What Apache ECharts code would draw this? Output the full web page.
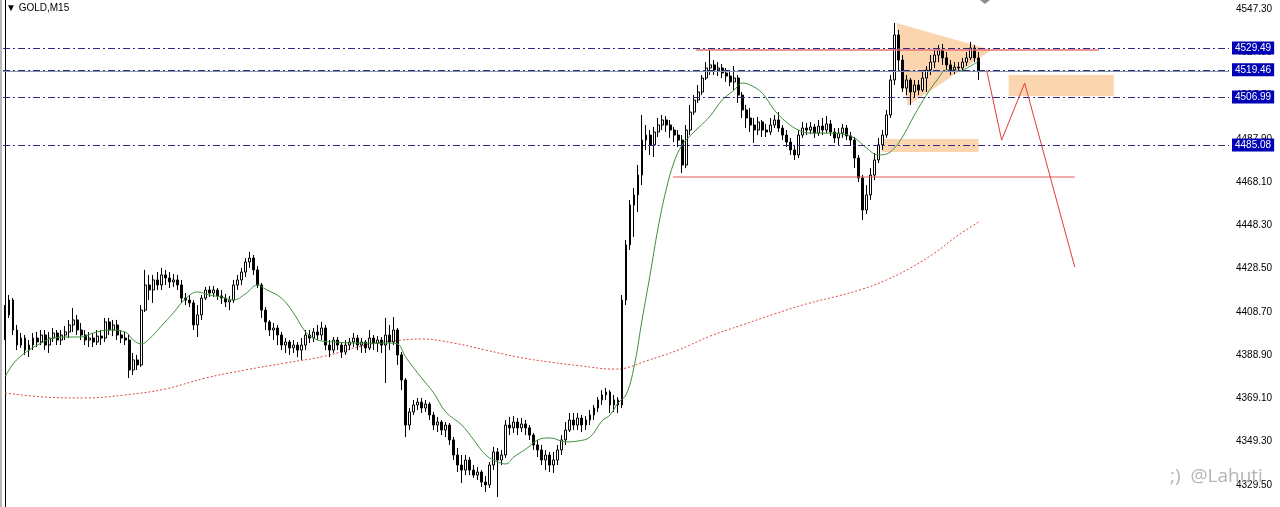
<!DOCTYPE html>
<html><head><meta charset="utf-8">
<script src="https://cdn.jsdelivr.net/npm/echarts@6/dist/echarts.min.js"></script>
<style>html,body{margin:0;padding:0;background:#fff;overflow:hidden}#c{width:1280px;height:507px}</style>
</head><body><div id="c"></div>
<script>
// GOLD M15 candles: [open, close, low, high]
const candles = [
[4398.1,4407.3,4395.8,4411.8],[4407.3,4414.1,4405.9,4416.4],[4414.1,4400.4,4398.1,4415.0],[4400.4,4393.5,4391.2,4402.7],
[4393.5,4396.7,4392.2,4399.0],[4396.7,4391.2,4389.0,4398.1],[4391.2,4393.5,4388.0,4395.8],[4393.5,4396.7,4391.2,4399.0],
[4396.7,4394.9,4392.6,4399.5],[4394.9,4398.1,4393.5,4400.4],[4398.1,4393.5,4391.2,4400.4],[4393.5,4396.7,4389.9,4399.5],
[4396.7,4399.0,4394.9,4401.3],[4399.0,4395.8,4393.5,4400.4],[4395.8,4398.1,4393.5,4400.4],[4398.1,4399.5,4395.8,4402.2],
[4399.5,4402.7,4396.7,4405.0],[4402.7,4405.0,4399.5,4410.5],[4405.0,4400.4,4398.1,4407.3],[4400.4,4398.1,4395.8,4403.6],
[4398.1,4395.8,4393.5,4400.4],[4395.8,4396.7,4392.6,4399.5],[4396.7,4394.9,4392.6,4399.0],[4394.9,4397.6,4393.5,4400.4],
[4397.6,4396.7,4393.5,4400.4],[4396.7,4404.1,4394.9,4405.9],[4404.1,4400.4,4398.1,4405.9],[4400.4,4402.7,4397.6,4405.0],
[4402.7,4398.1,4395.8,4405.0],[4398.1,4396.7,4394.4,4400.4],[4396.7,4395.8,4393.5,4399.5],[4395.8,4382.1,4378.4,4398.1],
[4382.1,4386.7,4379.8,4389.9],[4386.7,4384.4,4382.1,4389.0],[4384.4,4409.5,4383.5,4411.8],[4409.5,4421.0,4408.6,4427.9],
[4421.0,4418.7,4414.1,4425.6],[4418.7,4423.3,4412.8,4425.6],[4423.3,4421.0,4418.7,4426.9],[4421.0,4425.6,4418.7,4428.8],
[4425.6,4424.2,4421.0,4427.9],[4424.2,4422.4,4419.6,4426.9],[4422.4,4423.3,4420.1,4426.0],[4423.3,4421.0,4418.7,4425.6],
[4421.0,4415.0,4412.8,4423.3],[4415.0,4414.1,4411.8,4417.3],[4414.1,4412.8,4410.9,4416.4],[4412.8,4402.7,4400.4,4414.1],
[4402.7,4407.3,4397.2,4411.8],[4407.3,4415.0,4405.0,4416.4],[4415.0,4418.7,4414.1,4420.1],[4418.7,4417.3,4415.5,4420.5],
[4417.3,4418.7,4415.5,4420.5],[4418.7,4416.0,4414.1,4419.6],[4416.0,4415.0,4412.3,4418.7],[4415.0,4413.2,4410.9,4416.9],
[4413.2,4414.1,4409.5,4416.0],[4414.1,4421.0,4412.8,4423.3],[4421.0,4423.3,4418.7,4425.6],[4423.3,4426.9,4421.0,4428.8],
[4426.9,4431.5,4424.6,4433.3],[4431.5,4433.3,4428.8,4436.1],[4433.3,4427.9,4425.6,4434.7],[4427.9,4421.0,4419.6,4429.7],
[4421.0,4409.5,4405.9,4421.9],[4409.5,4404.1,4400.4,4410.9],[4404.1,4400.4,4397.6,4405.0],[4400.4,4401.3,4395.8,4403.6],
[4401.3,4398.1,4393.5,4402.7],[4398.1,4393.5,4391.2,4399.5],[4393.5,4394.9,4389.9,4396.7],[4394.9,4392.2,4389.0,4395.8],
[4392.2,4393.5,4389.9,4395.8],[4393.5,4391.2,4388.0,4394.9],[4391.2,4393.5,4386.7,4396.7],[4393.5,4398.1,4391.2,4400.4],
[4398.1,4396.7,4394.4,4400.4],[4396.7,4399.5,4394.9,4401.3],[4399.5,4398.1,4395.8,4402.7],[4398.1,4401.3,4395.8,4404.1],
[4401.3,4393.5,4391.2,4402.7],[4393.5,4391.2,4388.0,4395.8],[4391.2,4395.8,4389.9,4397.2],[4395.8,4393.5,4391.2,4397.2],
[4393.5,4390.3,4387.6,4394.9],[4390.3,4393.5,4389.0,4395.8],[4393.5,4394.9,4391.2,4396.7],[4394.9,4396.7,4392.6,4399.0],
[4396.7,4393.5,4391.2,4398.1],[4393.5,4394.9,4389.9,4396.7],[4394.9,4392.2,4389.9,4395.8],[4392.2,4396.7,4391.2,4400.4],
[4396.7,4394.4,4391.2,4398.1],[4394.4,4395.8,4390.3,4397.6],[4395.8,4393.5,4389.9,4397.2],[4393.5,4398.1,4376.1,4405.9],
[4398.1,4394.9,4391.2,4402.7],[4394.9,4400.4,4393.5,4406.3],[4400.4,4389.0,4384.4,4401.3],[4389.0,4377.5,4372.9,4390.3],
[4377.5,4356.9,4351.4,4378.4],[4356.9,4362.9,4354.6,4364.7],[4362.9,4366.1,4361.5,4368.4],[4366.1,4367.4,4363.8,4369.3],
[4367.4,4364.7,4362.4,4369.3],[4364.7,4366.5,4362.9,4368.4],[4366.5,4361.5,4359.2,4367.4],[4361.5,4356.9,4354.6,4362.9],
[4356.9,4358.3,4353.7,4360.6],[4358.3,4354.6,4352.3,4359.2],[4354.6,4356.9,4351.4,4358.3],[4356.9,4350.1,4347.8,4357.8],
[4350.1,4343.2,4340.9,4351.4],[4343.2,4338.6,4335.4,4346.4],[4338.6,4336.3,4330.4,4343.2],[4336.3,4340.9,4334.0,4343.2],
[4340.9,4336.3,4334.0,4342.3],[4336.3,4334.0,4332.7,4338.6],[4334.0,4335.4,4331.8,4337.7],[4335.4,4330.8,4328.6,4336.3],
[4330.8,4329.5,4326.3,4333.6],[4329.5,4338.6,4328.1,4340.0],[4338.6,4344.6,4336.3,4346.9],[4344.6,4340.9,4324.0,4346.4],
[4340.9,4343.2,4338.6,4345.5],[4343.2,4356.9,4341.8,4359.2],[4356.9,4355.6,4352.3,4360.6],[4355.6,4358.3,4353.3,4361.0],
[4358.3,4355.6,4352.3,4360.1],[4355.6,4357.4,4353.7,4360.1],[4357.4,4355.6,4352.3,4359.2],[4355.6,4352.3,4350.1,4356.9],
[4352.3,4347.8,4345.5,4353.3],[4347.8,4345.5,4342.3,4350.1],[4345.5,4340.9,4338.6,4347.8],[4340.9,4343.2,4336.3,4345.5],
[4343.2,4338.6,4335.4,4344.6],[4338.6,4340.9,4335.0,4344.6],[4340.9,4345.5,4338.6,4347.8],[4345.5,4350.1,4343.2,4352.3],
[4350.1,4354.6,4347.8,4358.3],[4354.6,4359.2,4353.7,4362.4],[4359.2,4356.9,4354.6,4362.4],[4356.9,4360.1,4354.6,4362.4],
[4360.1,4356.9,4353.7,4361.5],[4356.9,4359.2,4354.6,4361.0],[4359.2,4361.5,4356.9,4363.8],[4361.5,4364.7,4359.2,4366.1],
[4364.7,4368.4,4362.9,4369.7],[4368.4,4370.7,4366.1,4372.9],[4370.7,4372.0,4368.4,4373.9],[4372.0,4366.1,4362.4,4372.9],
[4366.1,4368.4,4362.9,4370.7],[4368.4,4366.1,4362.4,4369.7],[4366.1,4414.1,4364.7,4416.4],[4414.1,4439.3,4411.8,4441.6],
[4439.3,4457.6,4437.0,4459.9],[4457.6,4462.2,4443.0,4465.4],[4462.2,4471.3,4454.4,4475.9],[4471.3,4487.3,4466.7,4498.8],
[4487.3,4489.6,4482.8,4494.2],[4489.6,4485.1,4480.5,4491.9],[4485.1,4491.0,4479.6,4493.3],[4491.0,4494.2,4488.7,4497.4],
[4494.2,4496.5,4491.9,4498.8],[4496.5,4494.2,4491.0,4498.3],[4494.2,4491.9,4488.3,4496.5],[4491.9,4489.6,4486.4,4493.3],
[4489.6,4487.3,4484.1,4491.9],[4487.3,4475.9,4472.2,4489.6],[4475.9,4491.9,4474.5,4494.2],[4491.9,4500.1,4489.6,4503.4],
[4500.1,4505.6,4498.8,4507.9],[4505.6,4509.3,4504.3,4512.5],[4509.3,4515.7,4507.9,4517.1],[4515.7,4520.3,4514.8,4523.0],
[4520.3,4521.7,4517.1,4528.5],[4521.7,4519.4,4517.1,4523.9],[4519.4,4520.3,4516.6,4523.0],[4520.3,4518.0,4515.7,4522.1],
[4518.0,4516.6,4513.9,4520.3],[4516.6,4513.9,4512.0,4519.4],[4513.9,4515.7,4510.2,4521.2],[4515.7,4507.9,4504.3,4517.1],
[4507.9,4501.1,4497.4,4509.3],[4501.1,4497.4,4492.8,4503.4],[4497.4,4494.2,4491.0,4502.0],[4494.2,4491.9,4486.0,4497.4],
[4491.9,4495.6,4489.6,4497.9],[4495.6,4491.9,4488.7,4496.5],[4491.9,4491.0,4488.7,4494.7],[4491.0,4494.2,4489.6,4497.4],
[4494.2,4496.5,4492.8,4498.8],[4496.5,4492.8,4491.0,4500.1],[4492.8,4489.6,4487.3,4494.2],[4489.6,4486.4,4484.1,4491.9],
[4486.4,4482.8,4480.5,4488.3],[4482.8,4480.5,4478.2,4485.1],[4480.5,4489.6,4479.1,4491.9],[4489.6,4492.8,4488.3,4495.6],
[4492.8,4491.9,4489.6,4495.1],[4491.9,4493.3,4490.1,4495.6],[4493.3,4490.5,4488.3,4494.7],[4490.5,4493.7,4489.2,4496.5],
[4493.7,4491.9,4489.6,4497.4],[4491.9,4494.7,4490.5,4498.3],[4494.7,4491.0,4489.2,4496.5],[4491.0,4488.3,4486.0,4492.8],
[4488.3,4490.5,4485.1,4492.8],[4490.5,4492.8,4488.3,4494.7],[4492.8,4489.2,4487.3,4494.2],[4489.2,4487.3,4484.6,4491.0],
[4487.3,4479.1,4474.5,4488.7],[4479.1,4470.0,4468.1,4480.5],[4470.0,4455.3,4450.7,4471.3],[4455.3,4462.2,4453.5,4466.7],
[4462.2,4471.3,4459.9,4474.5],[4471.3,4478.2,4469.0,4481.4],[4478.2,4485.1,4476.8,4488.3],[4485.1,4489.6,4482.8,4491.9],
[4489.6,4498.8,4488.3,4501.1],[4498.8,4514.8,4497.4,4517.1],[4514.8,4535.4,4512.5,4540.9],[4535.4,4523.9,4519.4,4537.7],
[4523.9,4511.1,4509.3,4526.2],[4511.1,4514.8,4507.9,4517.1],[4514.8,4509.3,4503.4,4515.7],[4509.3,4512.5,4506.6,4514.8],
[4512.5,4510.2,4507.9,4514.8],[4510.2,4515.7,4509.3,4518.5],[4515.7,4519.4,4509.3,4521.2],[4519.4,4523.0,4517.1,4526.2],
[4523.0,4526.2,4520.3,4528.5],[4526.2,4528.5,4523.0,4530.8],[4528.5,4524.9,4521.7,4531.3],[4524.9,4521.7,4519.4,4527.6],
[4521.7,4519.4,4517.1,4523.9],[4519.4,4520.7,4517.5,4523.0],[4520.7,4520.3,4518.5,4523.0],[4520.3,4523.0,4518.5,4524.9],
[4523.0,4524.9,4521.2,4527.6],[4524.9,4529.4,4523.9,4532.2],[4529.4,4524.9,4523.0,4530.8],[4524.9,4518.5,4514.8,4527.6]
];
// moving averages sampled at bar index: [barIndex, value]
const greenMA = [[0,4379.0],[2,4384.8],[4,4388.5],[6,4391.2],[9,4394.4],[12,4396.7],[16,4397.2],[19,4397.2],[22,4399.0],[26,4400.4],
[30,4399.5],[32,4395.8],[34,4394.0],[36,4396.3],[39,4402.2],[42,4408.2],[45,4414.6],[48,4417.8],[51,4416.4],[54,4415.5],
[57,4414.1],[60,4416.9],[63,4421.0],[65,4419.1],[69,4415.0],[72,4408.2],[75,4399.5],[77,4396.7],[79,4395.4],[82,4394.9],
[88,4394.4],[96,4394.4],[98,4394.0],[100,4388.0],[104,4378.4],[107,4371.6],[110,4362.9],[114,4356.9],[117,4350.1],[120,4343.2],
[123,4340.0],[125,4339.1],[127,4342.3],[130,4345.9],[133,4350.1],[136,4351.0],[140,4349.2],[143,4349.6],[146,4351.4],[149,4358.8],
[151,4361.5],[153,4367.0],[155,4370.7],[157,4383.5],[159,4405.0],[161,4425.6],[163,4447.1],[165,4464.5],[167,4477.3],[169,4485.0],
[171,4489.2],[173,4492.8],[176,4498.3],[179,4505.6],[182,4510.2],[184,4513.4],[186,4512.5],[189,4508.8],[192,4501.1],[195,4495.6],
[198,4491.9],[201,4490.5],[205,4490.5],[209,4490.1],[212,4488.3],[215,4483.7],[218,4480.5],[220,4480.9],[222,4483.7],[224,4488.7],
[227,4498.8],[230,4507.9],[233,4515.7],[235,4519.4],[238,4518.9],[241,4521.2],[243,4523.5]];
const redMA = [[0,4371.6],[10,4369.7],[20,4369.3],[30,4370.7],[40,4373.4],[50,4378.4],[60,4382.1],[70,4385.3],[80,4388.5],[90,4393.5],
[97,4395.4],[104,4396.3],[112,4394.4],[120,4391.2],[128,4388.0],[136,4385.7],[144,4383.9],[152,4382.5],[155,4383.0],[160,4386.2],
[168,4391.2],[176,4397.6],[184,4402.7],[192,4407.7],[200,4412.3],[208,4416.0],[214,4419.1],[220,4423.3],[226,4428.8],[232,4435.6],
[238,4443.9],[243,4449.8]];
// horizontal price levels (blue labels) and bid line
const levels = [4529.49, 4519.46, 4506.99, 4485.08];
const bidPrice = 4518.6;
// price axis: visible range and tick labels
const yRange = [4319.4, 4551.4];
const yTicks = [4547.30,4527.50,4507.70,4487.90,4468.10,4448.30,4428.50,4408.70,4388.90,4369.10,4349.30,4329.50];
// drawn annotations, in [barIndex, price]
const triangleZone = [[222.5,4540.9],[246.25,4528.5],[225.25,4502.9]];
const supplyZone = [[250.5,4517.1],[276.75,4507.5]];
const demandZone = [[218.75,4487.8],[243,4481.8]];
const forecastPath = [[245,4519.4],[248.75,4487.3],[254.5,4513.4],[267,4429.2]];
const resistanceLine = [[172.5,4528.5],[273,4528.5]];
const supportLine = [[166.75,4470.4],[267,4470.4]];
const N_SLOTS = 306;

const slots = Array.from({length: N_SLOTS}, (_, i) => String(i));
const rect = r => [[r[0][0],r[0][1]],[r[1][0],r[0][1]],[r[1][0],r[1][1]],[r[0][0],r[1][1]]];
const zones = [triangleZone, rect(supplyZone), rect(demandZone)];
const FONT = 'Liberation Sans';

const chart = echarts.init(document.getElementById('c'));
chart.setOption({
  animation: false,
  backgroundColor: '#ffffff',
  grid: {left: 3, right: 51, top: 0, bottom: 0, containLabel: false},
  xAxis: [
    {type: 'category', data: slots, boundaryGap: true, show: false},
    {type: 'value', min: -0.5, max: N_SLOTS - 0.5, show: false}
  ],
  yAxis: [{
    type: 'value', position: 'right', min: yRange[0], max: yRange[1],
    axisLine: {show: true, lineStyle: {color: '#000', width: 1}},
    axisTick: {show: false},
    axisLabel: {margin: 7, color: '#000', fontFamily: FONT, fontSize: 10, customValues: yTicks,
      formatter: v => Number(v).toFixed(2)},
    splitLine: {show: false}
  }],
  series: [
    {
      type: 'custom', xAxisIndex: 1, yAxisIndex: 0, z: 1, silent: true,
      data: zones.map((z, i) => [i, z[0][1]]),
      renderItem: (params, api) => ({
        type: 'polygon',
        shape: {points: zones[params.dataIndex].map(p => api.coord(p))},
        style: {fill: '#fbd5b0'}
      })
    },
    {
      type: 'candlestick', xAxisIndex: 0, yAxisIndex: 0, z: 3, data: candles, barWidth: 2.4,
      itemStyle: {color: '#ffffff', color0: '#000000', borderColor: '#000000', borderColor0: '#000000', borderWidth: 1}
    },
    {
      type: 'line', xAxisIndex: 1, data: redMA, showSymbol: false, smooth: 0.4, z: 2, silent: true,
      lineStyle: {color: '#e0483f', width: 1, type: [2, 2]}
    },
    {
      type: 'line', xAxisIndex: 1, data: greenMA, showSymbol: false, smooth: 0.4, z: 4, silent: true,
      lineStyle: {color: '#3f8f3f', width: 1}
    },
    {
      type: 'line', xAxisIndex: 1, data: resistanceLine, showSymbol: false, z: 5, silent: true,
      lineStyle: {color: '#e57373', width: 1.5}
    },
    {
      type: 'line', xAxisIndex: 1, data: supportLine, showSymbol: false, z: 5, silent: true,
      lineStyle: {color: '#e05a5a', width: 1}
    },
    {
      type: 'line', xAxisIndex: 1, data: forecastPath, showSymbol: false, z: 5, silent: true,
      lineStyle: {color: '#e03a3a', width: 1}
    },
    {
      type: 'line', xAxisIndex: 1, data: [], z: 6, silent: true,
      markLine: {
        symbol: ['none', 'none'], silent: true, animation: false,
        data: [{yAxis: bidPrice, lineStyle: {color: '#8a94a8', type: 'solid', width: 1}, label: {show: false}}]
          .concat(levels.map(v => ({yAxis: v}))),
        lineStyle: {color: '#2a2a80', width: 1, type: [7, 3, 2, 3]},
        label: {
          show: true, position: 'end', distance: 3, formatter: p => p.value.toFixed(2),
          backgroundColor: '#0000b4', color: '#ffffff', fontFamily: FONT, fontSize: 10, padding: [2, 3, 1, 3]
        }
      }
    }
  ],
  graphic: [
    {type: 'rect', left: 0, top: 0, shape: {width: 2, height: 507}, style: {fill: '#b8b8b8'}, z: 10},
    {type: 'text', left: 6, top: 3, style: {text: '▼ GOLD,M15', fill: '#000', font: '10px "Liberation Sans"'}, z: 10},
    {type: 'polygon', shape: {points: [[980, 0], [990, 0], [985, 4]]}, style: {fill: '#8c8c8c'}, z: 10},
    {type: 'text', left: 1170, top: 467, style: {text: ';)  @Lahuti', fill: '#b4b4b4', font: '19px "Open Sans"'}, z: 10}
  ]
});
</script></body></html>
